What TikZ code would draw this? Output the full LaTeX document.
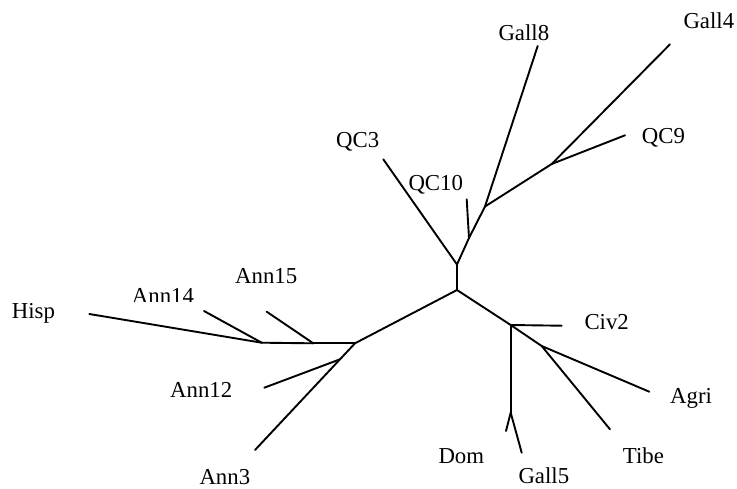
\documentclass[tikz,border=0pt]{standalone}
\usepackage{fontspec}
\setmainfont{Liberation Serif}
\begin{document}
\begin{tikzpicture}[x=1pt,y=-1pt,
  branch/.style={line width=1.9pt,line cap=round,line join=round},
  taxon/.style={inner sep=0pt,anchor=base west,font=\fontsize{22.8}{24}\selectfont}]
\useasboundingbox (0,0) rectangle (737,488);

% internal vertices
\coordinate (R) at (457,290);
\coordinate (A) at (457,264.5);
\coordinate (B) at (469,238);
\coordinate (C) at (485,206.5);
\coordinate (D) at (551.7,164);
\coordinate (E) at (355,343.3);
\coordinate (F) at (313.3,343.3);
\coordinate (G) at (261.7,342.7);
\coordinate (H) at (340,359.3);
\coordinate (I) at (510.7,325);
\coordinate (J) at (510.7,412.7);
\coordinate (K) at (541.7,346);

% leaf tips
\coordinate (tQC3) at (383.3,159.3);
\coordinate (tQC10) at (466.7,199.3);
\coordinate (tGall8) at (537.7,46);
\coordinate (tQC9) at (625,135.3);
\coordinate (tGall4) at (670,44.3);
\coordinate (tHisp) at (89.3,314);
\coordinate (tAnn14) at (204,311);
\coordinate (tAnn15) at (266.7,311.7);
\coordinate (tAnn12) at (264.3,387.7);
\coordinate (tAnn3) at (255,450);
\coordinate (tCiv2) at (561.7,325.7);
\coordinate (tDom) at (506,431);
\coordinate (tGall5) at (521.7,452.7);
\coordinate (tAgri) at (649.3,391.7);
\coordinate (tTibe) at (610,429.3);

% branches
\draw[branch] (R) -- (A);
\draw[branch] (A) -- (tQC3);
\draw[branch] (A) -- (B);
\draw[branch] (B) -- (tQC10);
\draw[branch] (B) -- (C);
\draw[branch] (C) -- (tGall8);
\draw[branch] (C) -- (D);
\draw[branch] (D) -- (tQC9);
\draw[branch] (D) -- (tGall4);
\draw[branch] (R) -- (E);
\draw[branch] (E) -- (F);
\draw[branch] (F) -- (G);
\draw[branch] (G) -- (tHisp);
\draw[branch] (G) -- (tAnn14);
\draw[branch] (F) -- (tAnn15);
\draw[branch] (E) -- (H);
\draw[branch] (H) -- (tAnn3);
\draw[branch] (H) -- (tAnn12);
\draw[branch] (R) -- (I);
\draw[branch] (I) -- (tCiv2);
\draw[branch] (I) -- (J);
\draw[branch] (J) -- (tDom);
\draw[branch] (J) -- (tGall5);
\draw[branch] (I) -- (K);
\draw[branch] (K) -- (tAgri);
\draw[branch] (K) -- (tTibe);

% taxon labels
\node[taxon] (lQC3) at (336,147.7) {QC3};
\node[taxon] (lQC10) at (408.3,190.7) {QC10};
\node[taxon] (lGall8) at (498.3,40) {Gall8};
\node[taxon] (lGall4) at (683.3,28.3) {Gall4};
\node[taxon] (lQC9) at (641.7,143.5) {QC9};
\node[taxon] (lHisp) at (11.7,318.3) {Hisp};
\begin{scope}
  \clip (120,270) rectangle (220,301);
  \node[taxon] (lAnn14) at (131.7,303.5) {Ann14};
\end{scope}
\node[taxon] (lAnn15) at (235,283.3) {Ann15};
\node[taxon] (lAnn12) at (170,397.7) {Ann12};
\node[taxon] (lAnn3) at (199.3,484) {Ann3};
\node[taxon] (lCiv2) at (584.3,329) {Civ2};
\node[taxon] (lAgri) at (670,403.3) {Agri};
\node[taxon] (lTibe) at (622.7,463.3) {Tibe};
\node[taxon] (lDom) at (438.3,463.3) {Dom};
\node[taxon] (lGall5) at (518.3,483.3) {Gall5};
\end{tikzpicture}
\end{document}
